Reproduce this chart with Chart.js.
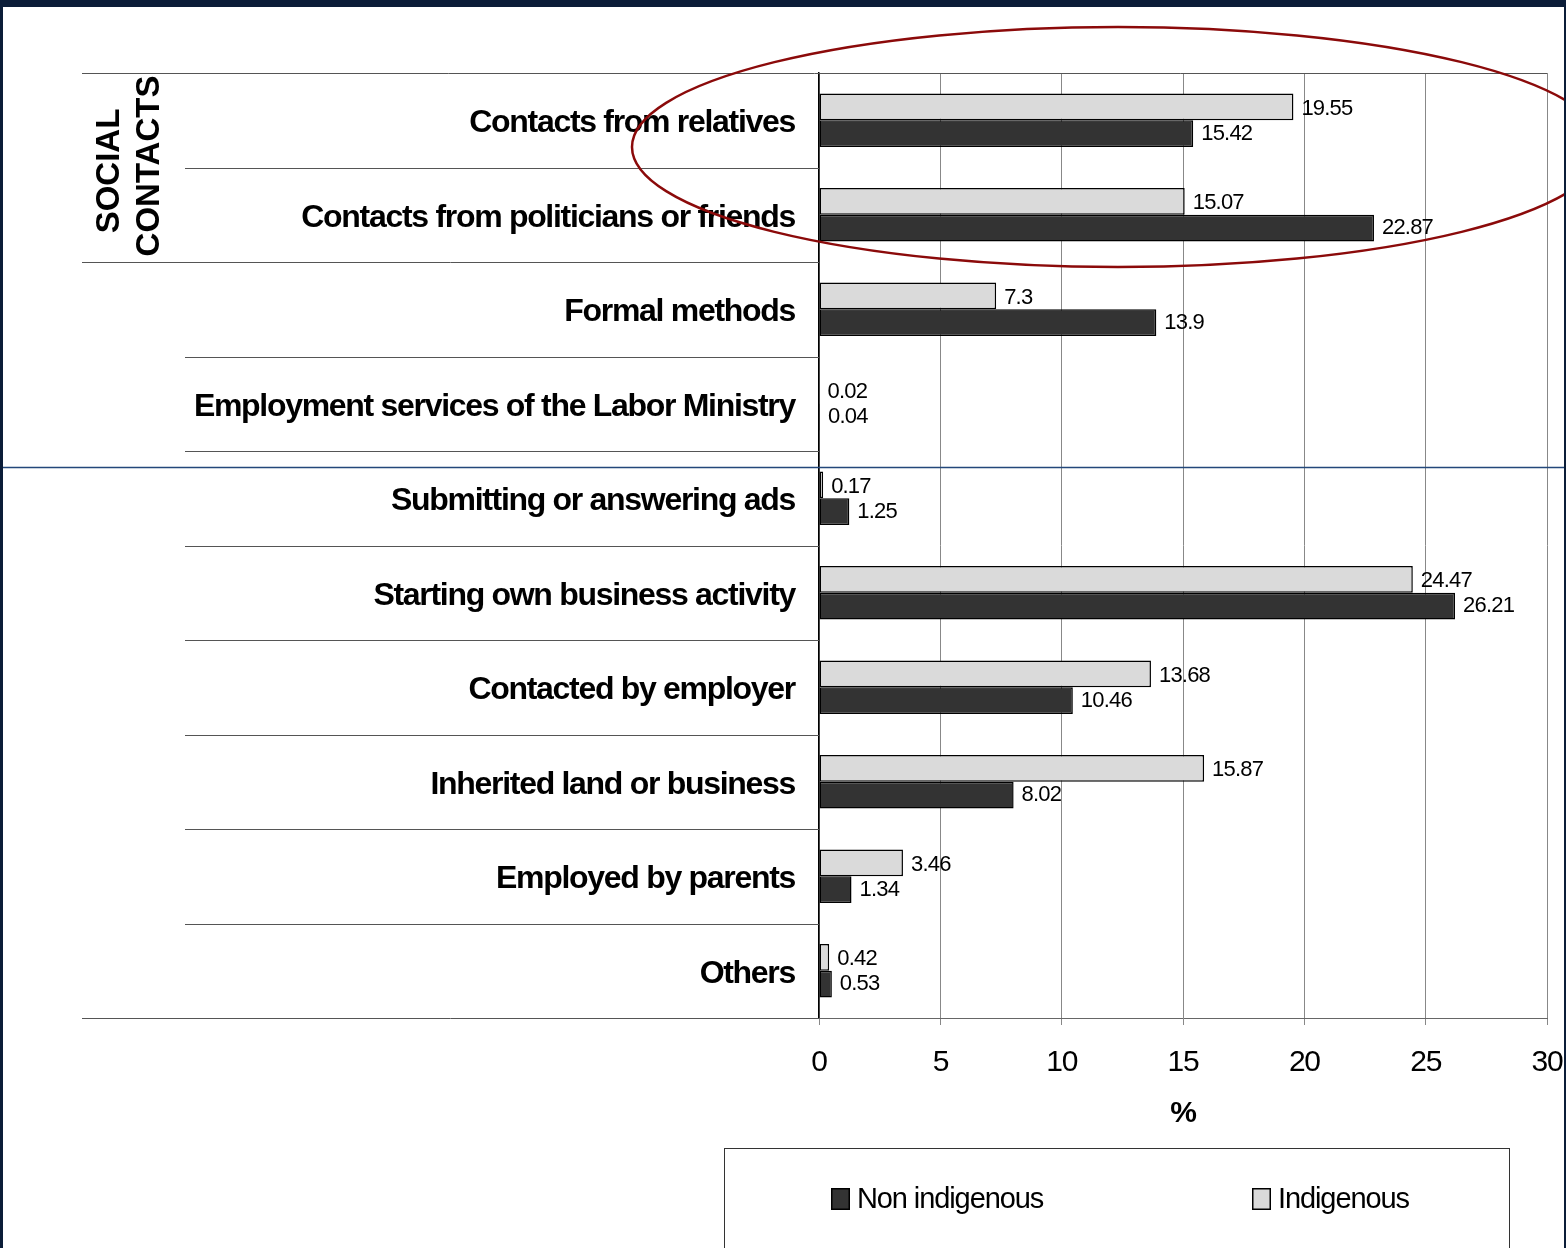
<!DOCTYPE html>
<html>
<head>
<meta charset="utf-8">
<script src="https://cdn.jsdelivr.net/npm/chart.js@4.4.1/dist/chart.umd.min.js"></script>
<style>
  html, body { margin: 0; padding: 0; background: #fff; }
  #chart { display: block; }
</style>
</head>
<body>
<canvas id="chart" width="1566" height="1248"></canvas>
<script>
const categories = [
  'Contacts from relatives',
  'Contacts from politicians or friends',
  'Formal methods',
  'Employment services of the Labor Ministry',
  'Submitting or answering ads',
  'Starting own business activity',
  'Contacted by employer',
  'Inherited land or business',
  'Employed by parents',
  'Others'
];
const indigenous    = [19.55, 15.07, 7.3, 0.02, 0.17, 24.47, 13.68, 15.87, 3.46, 0.42];
const nonIndigenous = [15.42, 22.87, 13.9, 0.04, 1.25, 26.21, 10.46, 8.02, 1.34, 0.53];
const xMin = 0, xMax = 30, xStep = 5;

const FONT = '"Liberation Sans", Arial, sans-serif';
const LIGHT = '#dadada';
const DARK = '#333333';

// extra drawing: value labels, row separators, group label, legend box, frame
const decor = {
  id: 'decor',
  beforeDraw(chart) {
    const ctx = chart.ctx;
    ctx.save();
    ctx.fillStyle = '#fff';
    ctx.fillRect(0, 0, chart.width, chart.height);
    ctx.restore();
    ctx.letterSpacing = '-1.3px';
  },
  afterDatasetsDraw(chart) {
    const ctx = chart.ctx;
    ctx.save();
    ctx.letterSpacing = '-0.8px';
    ctx.font = '22px ' + FONT;
    ctx.fillStyle = '#000';
    ctx.textAlign = 'left';
    ctx.textBaseline = 'middle';
    chart.data.datasets.forEach((ds, i) => {
      chart.getDatasetMeta(i).data.forEach((bar, j) => {
        ctx.fillText(String(ds.data[j]), bar.x + 8, bar.y + (i === 0 ? 2 : 0));
      });
    });
    ctx.restore();
  },
  afterDraw(chart) {
    const ctx = chart.ctx;
    const area = chart.chartArea;
    const y = chart.scales.y;
    ctx.save();

    // row separators
    ctx.strokeStyle = '#555';
    ctx.lineWidth = 1;
    for (let i = 0; i <= categories.length; i++) {
      const py = Math.round(y.getPixelForValue(i - 0.5)) + 0.5;
      let x0 = 185, x1 = area.left;
      if (i === 0) { x0 = 82; x1 = area.right; }
      if (i === 2 || i === categories.length) x0 = 82;
      ctx.beginPath();
      ctx.moveTo(x0, py);
      ctx.lineTo(x1, py);
      ctx.stroke();
    }

    // group label
    ctx.letterSpacing = '0px';
    ctx.fillStyle = '#000';
    ctx.font = 'bold 33px ' + FONT;
    ctx.textAlign = 'center';
    ctx.textBaseline = 'middle';
    ctx.save();
    ctx.translate(110, 171);
    ctx.rotate(-Math.PI / 2);
    ctx.fillText('SOCIAL', 0, 0);
    ctx.restore();
    ctx.save();
    ctx.translate(150, 166);
    ctx.rotate(-Math.PI / 2);
    ctx.fillText('CONTACTS', 0, 0);
    ctx.restore();

    // horizontal rule
    ctx.strokeStyle = '#23477a';
    ctx.lineWidth = 1.5;
    ctx.beginPath();
    ctx.moveTo(0, 467.5);
    ctx.lineTo(chart.width, 467.5);
    ctx.stroke();

    // highlight ellipse
    ctx.strokeStyle = '#8b0a0a';
    ctx.lineWidth = 2.5;
    ctx.beginPath();
    ctx.ellipse(1118, 147, 486, 120, 0, 0, Math.PI * 2);
    ctx.stroke();

    // legend
    ctx.strokeStyle = '#333';
    ctx.lineWidth = 1;
    ctx.strokeRect(724.5, 1148.5, 785, 200);
    const legendX = [831, 1252];
    ctx.font = '29px ' + FONT;
    ctx.letterSpacing = '-1.1px';
    ctx.textAlign = 'left';
    chart.data.datasets.slice().reverse().forEach((ds, k) => {
      const lx = legendX[k];
      ctx.fillStyle = ds.backgroundColor;
      ctx.fillRect(lx, 1188, 19, 22);
      ctx.strokeStyle = '#000';
      ctx.lineWidth = 1.5;
      ctx.strokeRect(lx + 0.75, 1188.75, 17.5, 20.5);
      ctx.fillStyle = '#000';
      ctx.fillText(ds.label, lx + 26, 1200);
    });

    // frame
    ctx.fillStyle = '#0b1d38';
    ctx.fillRect(0, 0, chart.width, 7);
    ctx.fillRect(0, 0, 3, chart.height);
    ctx.fillRect(chart.width - 2, 0, 2, chart.height);
    ctx.restore();
  }
};

new Chart(document.getElementById('chart'), {
  type: 'bar',
  data: {
    labels: categories,
    datasets: [
      {
        label: 'Indigenous',
        data: indigenous,
        backgroundColor: LIGHT,
        borderColor: '#000',
        borderWidth: 1.5,
        borderSkipped: false
      },
      {
        label: 'Non indigenous',
        data: nonIndigenous,
        backgroundColor: DARK,
        borderColor: '#000',
        borderWidth: 1.5,
        borderSkipped: false
      }
    ]
  },
  options: {
    indexAxis: 'y',
    responsive: false,
    animation: false,
    categoryPercentage: 0.565,
    barPercentage: 1,
    layout: { padding: { top: 73, right: 19, left: 0, bottom: 0 } },
    plugins: {
      legend: { display: false },
      tooltip: { enabled: false }
    },
    scales: {
      y: {
        afterFit: s => { s.width = 819; },
        grid: { display: false, drawTicks: false },
        border: { color: '#000', width: 1.5 },
        ticks: {
          padding: 24,
          labelOffset: 3,
          color: '#000',
          font: { family: FONT, size: 32, weight: 'bold' },
          autoSkip: false
        }
      },
      x: {
        min: xMin,
        max: xMax,
        afterFit: s => { s.height = 230; s.paddingRight = 0; s.paddingLeft = 0; },
        grid: { color: '#888', lineWidth: 1, tickLength: 7 },
        border: { color: '#666', width: 1 },
        ticks: {
          stepSize: xStep,
          padding: 20,
          color: '#000',
          maxRotation: 0,
          minRotation: 0,
          font: { family: FONT, size: 30 }
        },
        title: {
          display: true,
          text: '%',
          color: '#000',
          font: { family: FONT, size: 30, weight: 'bold' },
          padding: { top: 0, bottom: 116 }
        }
      }
    }
  },
  plugins: [decor]
});
</script>
</body>
</html>
